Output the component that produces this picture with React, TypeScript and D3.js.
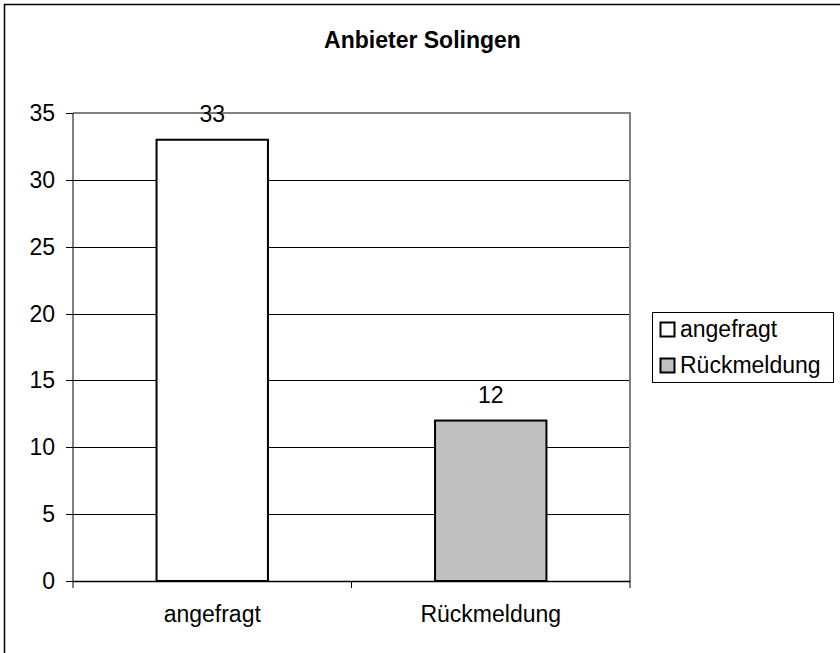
import React, { Component } from 'react';
import * as d3 from 'd3';

const title = 'Anbieter Solingen';
const categories = ['angefragt', 'Rückmeldung'];
const values = [33, 12];
const barColors = ['#ffffff', '#c0c0c0'];
const yTicks = [0, 5, 10, 15, 20, 25, 30, 35];

class App extends Component {
  myRef: React.RefObject<SVGSVGElement | null>;

  constructor(props: {}) {
    super(props);
    this.myRef = React.createRef();
  }

  componentDidMount() {
    this.drawChart();
  }

  drawChart() {
    const w = 840;
    const h = 653;
    const font = 'Liberation Sans, Arial, sans-serif';
    const fontSize = 23;
    // plot area, in page pixels
    const left = 73, right = 630, top = 113, bottom = 581;

    const svg = d3.select(this.myRef.current);
    svg.selectAll('*').remove();
    svg.attr('width', w).attr('height', h).style('background-color', '#ffffff');

    // outer chart border (runs off the right and bottom edge)
    svg.append('rect')
      .attr('x', 4.5).attr('y', 4.5)
      .attr('width', w).attr('height', h)
      .attr('fill', 'none').attr('stroke', '#000').attr('stroke-width', 1.5);

    const x = d3.scaleBand<string>()
      .domain(categories)
      .range([left, right])
      .paddingInner(0.6)
      .paddingOuter(0.3);

    const y = d3.scaleLinear().domain([0, 35]).range([bottom, top]);

    // gridlines
    svg.append('g')
      .selectAll('line')
      .data(yTicks.filter(t => t > 0 && t < 35))
      .enter()
      .append('line')
      .attr('x1', left).attr('x2', right)
      .attr('y1', d => Math.round(y(d)) + 0.5).attr('y2', d => Math.round(y(d)) + 0.5)
      .attr('stroke', '#000').attr('stroke-width', 1);

    // plot area border (top / right grey)
    svg.append('path')
      .attr('d', `M${left},${top}H${right}V${bottom}`)
      .attr('fill', 'none').attr('stroke', '#808080').attr('stroke-width', 2);

    // y axis
    const yAxis = svg.append('g');
    yAxis.append('line')
      .attr('x1', left).attr('x2', left).attr('y1', top).attr('y2', bottom)
      .attr('stroke', '#000').attr('stroke-width', 1);
    yAxis.selectAll('line.tick')
      .data(yTicks)
      .enter()
      .append('line')
      .attr('class', 'tick')
      .attr('x1', left - 7).attr('x2', left)
      .attr('y1', d => Math.round(y(d)) + 0.5).attr('y2', d => Math.round(y(d)) + 0.5)
      .attr('stroke', '#000');
    yAxis.selectAll('text')
      .data(yTicks)
      .enter()
      .append('text')
      .attr('x', 55)
      .attr('y', d => y(d) + 8)
      .attr('text-anchor', 'end')
      .attr('font-family', font)
      .attr('font-size', fontSize)
      .text(d => d);

    // bars
    svg.append('g')
      .selectAll('rect')
      .data(values)
      .enter()
      .append('rect')
      .attr('x', (d, i) => x(categories[i])!)
      .attr('y', d => y(d))
      .attr('width', x.bandwidth())
      .attr('height', d => bottom - y(d))
      .attr('fill', (d, i) => barColors[i])
      .attr('stroke', '#000')
      .attr('stroke-width', 2);

    // value labels
    svg.append('g')
      .selectAll('text')
      .data(values)
      .enter()
      .append('text')
      .attr('x', (d, i) => x(categories[i])! + x.bandwidth() / 2)
      .attr('y', d => y(d) - 18)
      .attr('text-anchor', 'middle')
      .attr('font-family', font)
      .attr('font-size', fontSize)
      .text(d => d);

    // x axis
    const xAxis = svg.append('g');
    xAxis.append('line')
      .attr('x1', left).attr('x2', right).attr('y1', bottom + 0.5).attr('y2', bottom + 0.5)
      .attr('stroke', '#000').attr('stroke-width', 1.5);
    const step = x.step();
    xAxis.selectAll('line.tick')
      .data(d3.range(categories.length + 1))
      .enter()
      .append('line')
      .attr('class', 'tick')
      .attr('x1', i => left + i * step).attr('x2', i => left + i * step)
      .attr('y1', bottom).attr('y2', bottom + 7)
      .attr('stroke', '#000');
    xAxis.selectAll('text')
      .data(categories)
      .enter()
      .append('text')
      .attr('x', d => x(d)! + x.bandwidth() / 2)
      .attr('y', 622)
      .attr('text-anchor', 'middle')
      .attr('font-family', font)
      .attr('font-size', fontSize)
      .text(d => d);

    // title
    svg.append('text')
      .attr('x', 422.5)
      .attr('y', 48)
      .attr('text-anchor', 'middle')
      .attr('font-family', font)
      .attr('font-size', fontSize)
      .attr('font-weight', 'bold')
      .text(title);

    // legend
    const legend = svg.append('g');
    legend.append('rect')
      .attr('x', 652.5).attr('y', 312.5)
      .attr('width', 181).attr('height', 70)
      .attr('fill', '#fff').attr('stroke', '#000').attr('stroke-width', 1);
    const rows = legend.selectAll('g.row')
      .data(categories)
      .enter()
      .append('g')
      .attr('class', 'row')
      .attr('transform', (d, i) => `translate(0,${i * 36})`);
    rows.append('rect')
      .attr('x', 660.5).attr('y', 322.5)
      .attr('width', 14).attr('height', 14)
      .attr('fill', (d, i) => barColors[i])
      .attr('stroke', '#000').attr('stroke-width', 2);
    rows.append('text')
      .attr('x', 680)
      .attr('y', 337)
      .attr('font-family', font)
      .attr('font-size', fontSize)
      .text(d => d);
  }

  render() {
    return <svg ref={this.myRef} style={{ position: 'absolute', left: 0, top: 0, display: 'block' }}></svg>;
  }
}

export default App;
